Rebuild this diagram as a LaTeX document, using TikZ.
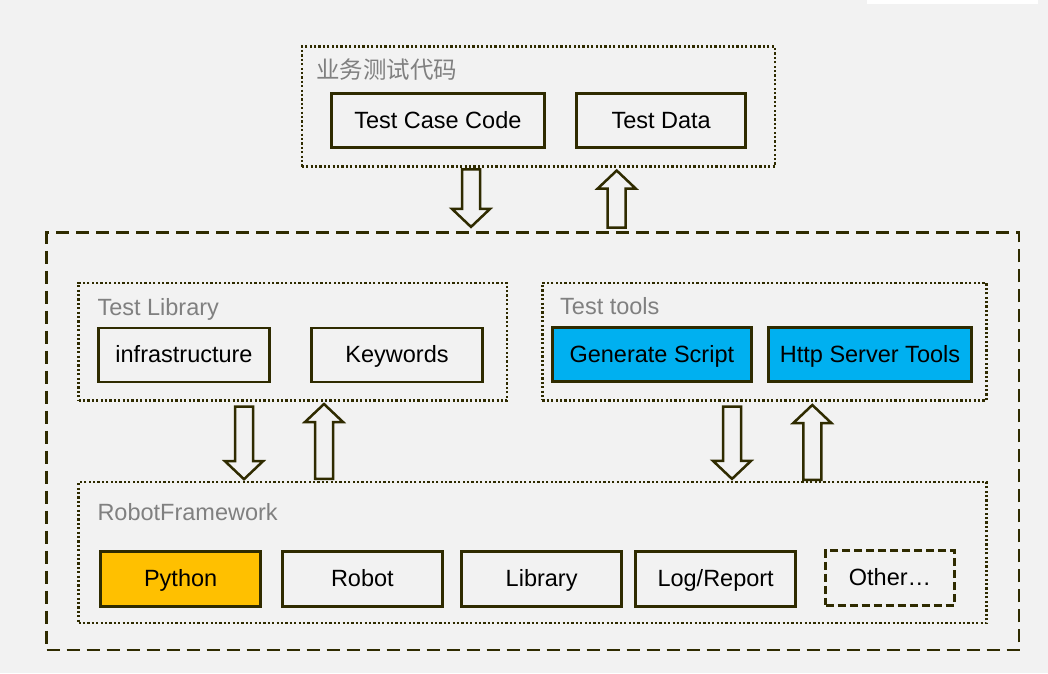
\documentclass[tikz,border=0pt]{standalone}
\usepackage{fontspec}
\setmainfont{Liberation Sans}
\newfontfamily\cjk{Noto Sans CJK SC}
\usetikzlibrary{calc}
\definecolor{bg}{HTML}{F2F2F2}
\definecolor{edge}{HTML}{2F2B00}
\definecolor{lblgray}{HTML}{808080}
\definecolor{cyanfill}{HTML}{00B0F0}
\definecolor{goldfill}{HTML}{FFC000}
\begin{document}
\begin{tikzpicture}[x=1pt,y=-1pt,font=\fontsize{23.5}{27}\selectfont,
  unit/.style={draw=edge,line width=2.8pt,rectangle,inner sep=0pt,minimum height=54pt,text height=20pt,text depth=5pt},
  grp/.style={draw=edge,line width=2.5pt,dash pattern=on 2.2pt off 2.2pt,rectangle,inner sep=0pt},
  outerbox/.style={draw=edge,line width=2.8pt,dash pattern=on 13pt off 7pt,rectangle,inner sep=0pt},
  lbl/.style={text=lblgray,anchor=base west,inner sep=0pt},
  fat/.style={draw=edge,line width=2.5pt,fill=bg,line join=miter,
    to path={let \p1=(\tikztostart), \p2=(\tikztotarget), \n1={ifthenelse(\y2<\y1,1,-1)} in
      (\x1-9pt,\y1) -- (\x1-9pt,\y2+\n1*18pt) -- (\x1-19pt,\y2+\n1*18pt) -- (\x1,\y2)
      -- (\x1+19pt,\y2+\n1*18pt) -- (\x1+9pt,\y2+\n1*18pt) -- (\x1+9pt,\y1) -- cycle}}]
\useasboundingbox (0,0) rectangle (1048,673);
\fill[bg] (0,0) rectangle (1048,673);
\fill[white] (867,0) rectangle (1038,4);

% business code on top
\node[grp,minimum width=473pt,minimum height=120pt] (biz) at (538.35,106.7) {};
\node[lbl] (bizl) at (316,78) {\cjk 业务测试代码};
\node[unit,minimum width=212.7pt] (tcc) at (437.85,120.8) {Test Case Code};
\node[unit,minimum width=169.3pt] (tdata) at (661.15,120.8) {Test Data};

% framework
\node[outerbox,minimum width=972.3pt,minimum height=417.3pt] (outer) at (532.85,441.35) {};

\node[grp,minimum width=428.5pt,minimum height=117.5pt] (tlib) at (292.8,341.7) {};
\node[lbl] (tlibl) at (97.3,315) {Test Library};
\node[unit,minimum width=170.4pt] (infra) at (184,355) {infrastructure};
\node[unit,minimum width=171pt] (kw) at (397,355) {Keywords};

\node[grp,minimum width=444pt,minimum height=117.5pt] (ttool) at (764.35,341.7) {};
\node[lbl] (ttooll) at (560,314.3) {Test tools};
\node[unit,minimum width=198.7pt,fill=cyanfill] (gen) at (651.85,354.7) {Generate Script};
\node[unit,minimum width=202.4pt,fill=cyanfill] (http) at (870,354.7) {Http Server Tools};

\node[grp,minimum width=908pt,minimum height=141pt] (rf) at (532.5,552.65) {};
\node[lbl] (rfl) at (97.3,520) {RobotFramework};
\node[unit,minimum width=160.3pt,minimum height=55pt,fill=goldfill] (py) at (180.65,579.15) {Python};
\node[unit,minimum width=160.3pt,minimum height=55pt] (robot) at (362.35,579.15) {Robot};
\node[unit,minimum width=160.3pt,minimum height=55pt] (lib) at (541.65,579.15) {Library};
\node[unit,minimum width=160.3pt,minimum height=55pt] (log) at (715.65,579.15) {Log/Report};
\node[unit,minimum width=129pt,minimum height=54.7pt,dash pattern=on 8pt off 4pt] (other) at (890,577.85) {Other…};

\draw[fat] ([xshift=-67.35pt,yshift=-1.3pt]biz.south) to ([xshift=-61.85pt,yshift=4.4pt]outer.north);
\draw[fat] ([xshift=83.85pt,yshift=3.7pt]outer.north) to ([xshift=78.35pt,yshift=-2.6pt]biz.south);

\draw[fat] ([xshift=-48.8pt,yshift=-5pt]tlib.south) to ([xshift=-288.5pt,yshift=1.7pt]rf.north);
\draw[fat] ([xshift=-208.5pt,yshift=2pt]rf.north) to ([xshift=31.2pt,yshift=-2.3pt]tlib.south);

\draw[fat] ([xshift=-32.35pt,yshift=-5pt]ttool.south) to ([xshift=199.5pt,yshift=2pt]rf.north);
\draw[fat] ([xshift=279.8pt,yshift=1pt]rf.north) to ([xshift=47.95pt,yshift=-3.3pt]ttool.south);
\end{tikzpicture}
\end{document}
